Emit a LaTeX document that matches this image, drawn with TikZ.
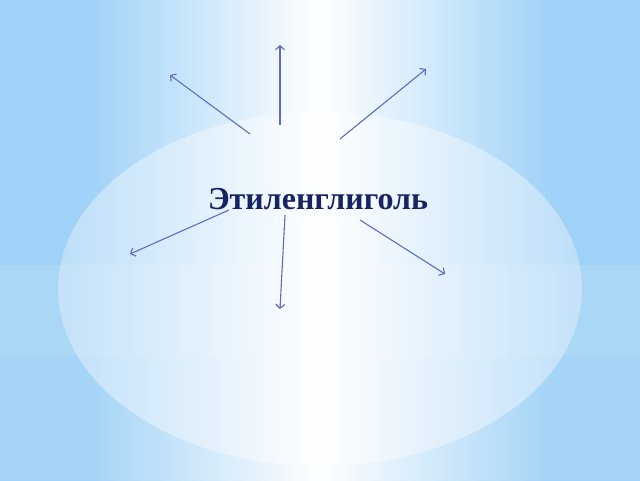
\documentclass[tikz,border=0pt]{standalone}
\usepackage{fontspec}
\setmainfont{Liberation Serif}
\usetikzlibrary{arrows.meta}
\definecolor{skyedge}{RGB}{160,210,247}
\definecolor{glowedge}{RGB}{188,222,249}
\definecolor{titleblue}{RGB}{22,36,100}
\definecolor{rayblue}{RGB}{92,108,192}
\pgfdeclarehorizontalshading{skyband}{100bp}{color(0bp)=(skyedge); color(32bp)=(skyedge); color(50bp)=(white); color(68bp)=(skyedge); color(100bp)=(skyedge)}
\pgfdeclarehorizontalshading{glowband}{100bp}{color(0bp)=(glowedge); color(25bp)=(glowedge); color(50bp)=(white); color(75bp)=(glowedge); color(100bp)=(glowedge)}
\tikzset{
	ray/.style={draw=rayblue, line width=1.1pt, -{Straight Barb[length=4pt,width=9pt]}},
	title/.style={font=\bfseries\fontsize{32}{38}\selectfont, text=titleblue},
}
\begin{document}
\begin{tikzpicture}[x=1pt, y=-1pt]
			\useasboundingbox (0,0) rectangle (640,480);
			\shade[shading=skyband] (0,0) rectangle (640,480);
			\shade[shading=glowband] (320,289) ellipse (262 and 177);
			\fill[white, opacity=.12] (0,265) rectangle (640,357);
			\fill[white, opacity=.06] (0,357) rectangle (640,480);
			\node[title, anchor=base] (glycol) at (318,209) {Этиленглиголь};
			\foreach \i/\sx/\sy/\ex/\ey in {1/250/134/170/75, 2/280/125/280/45, 3/340/139/426/69,
					4/229/210/130/254, 5/285/215/280/309, 6/360/220/445/274}
				{\coordinate (s\i) at (\sx,\sy); \coordinate (e\i) at (\ex,\ey);}
			\foreach \i in {1,...,6}
				\draw[ray] (s\i) -- (e\i);
		\end{tikzpicture}
\end{document}
